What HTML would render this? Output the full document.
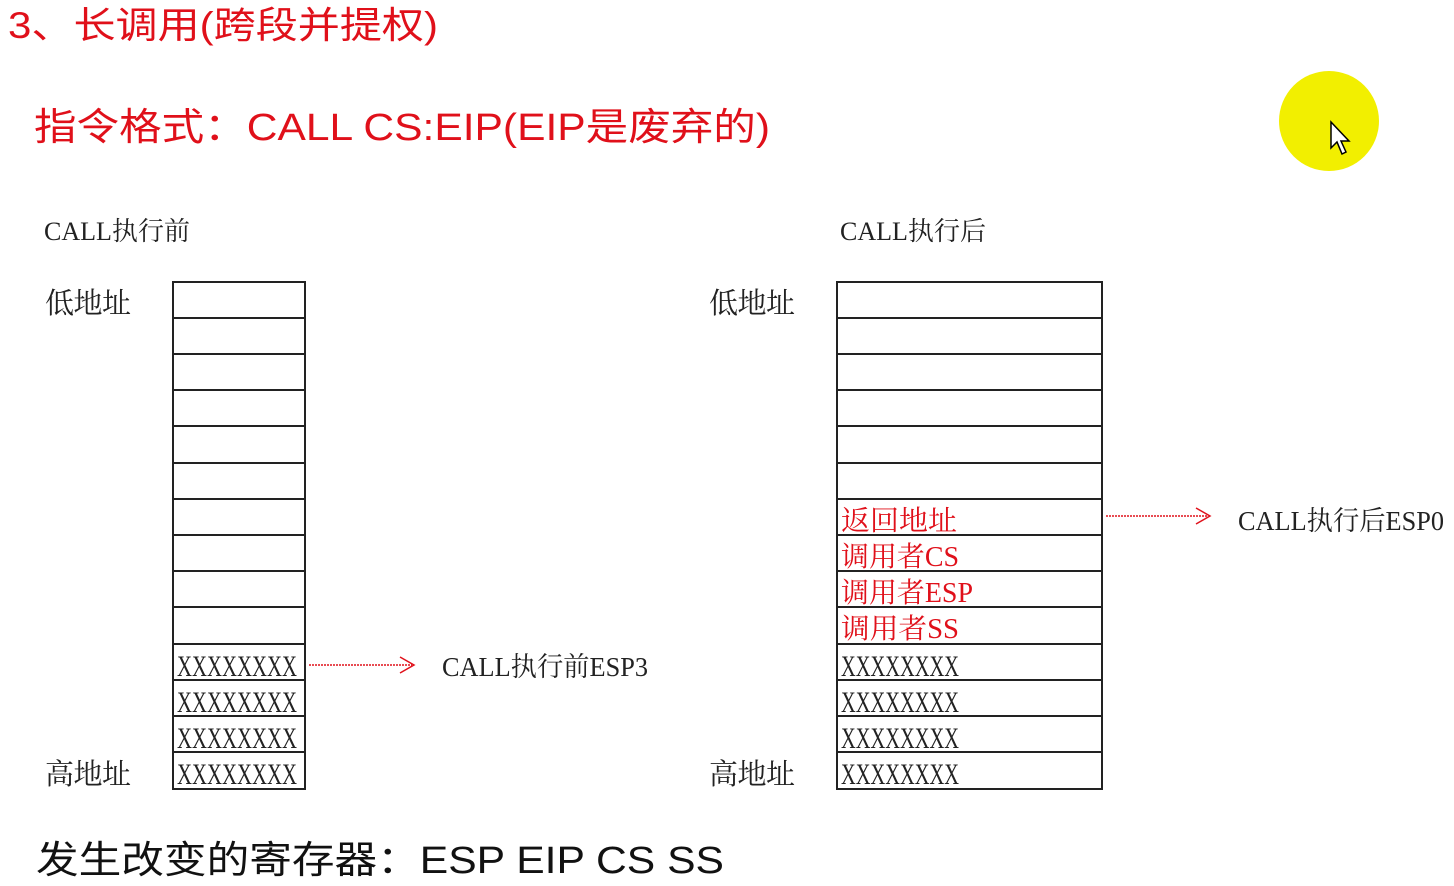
<!DOCTYPE html>
<html><head><meta charset="utf-8"><style>
html,body{margin:0;padding:0;background:#fff;}
svg{display:block}
.cjk{font-family:"Liberation Sans","Noto Sans CJK SC",sans-serif;}
.ser{font-family:"Liberation Serif","Noto Serif CJK SC","Noto Sans CJK SC",serif;}
</style></head><body>
<svg width="1454" height="886" viewBox="0 0 1454 886" xmlns="http://www.w3.org/2000/svg" xml:space="preserve">
<rect width="1454" height="886" fill="#fff"/>
<text x="8" y="38" class="cjk" font-size="37" fill="#e0101a" textLength="430" lengthAdjust="spacingAndGlyphs">3、长调用(跨段并提权)</text>
<text x="34" y="140" class="cjk" font-size="38" fill="#e0101a" textLength="736" lengthAdjust="spacingAndGlyphs">指令格式：CALL  CS:EIP(EIP是废弃的)</text>
<circle cx="1329" cy="121" r="50" fill="#f2ef00"/>
<path d="M1331 122 L1331 148 L1337 142 L1342 154 L1346 152 L1341 141 L1349 141 Z" fill="#fff" stroke="#000" stroke-width="1.5"/>
<text x="44" y="240" class="ser" font-size="26" fill="#222" textLength="146" lengthAdjust="spacingAndGlyphs">CALL执行前</text>
<text x="840" y="240" class="ser" font-size="26" fill="#222" textLength="146" lengthAdjust="spacingAndGlyphs">CALL执行后</text>
<text x="45" y="313" class="ser" font-size="29" fill="#222" textLength="86">低地址</text>
<text x="45" y="784" class="ser" font-size="29" fill="#222" textLength="86">高地址</text>
<text x="709" y="313" class="ser" font-size="29" fill="#222" textLength="86">低地址</text>
<text x="709" y="784" class="ser" font-size="29" fill="#222" textLength="86">高地址</text>
<g stroke="#222" stroke-width="2" fill="none">
<rect x="173" y="282" width="132" height="507"/>
<rect x="837" y="282" width="265" height="507"/>
<path d="M173 318H305M173 354H305M173 390H305M173 426H305M173 463H305M173 499H305M173 535H305M173 571H305M173 607H305M173 644H305M173 680H305M173 716H305M173 752H305"/>
<path d="M837 318H1102M837 354H1102M837 390H1102M837 426H1102M837 463H1102M837 499H1102M837 535H1102M837 571H1102M837 607H1102M837 644H1102M837 680H1102M837 716H1102M837 752H1102"/>
</g>
<g class="ser" font-size="30" fill="#222">
<text x="177" y="676" textLength="120" lengthAdjust="spacingAndGlyphs">XXXXXXXX</text>
<text x="177" y="712" textLength="120" lengthAdjust="spacingAndGlyphs">XXXXXXXX</text>
<text x="177" y="748" textLength="120" lengthAdjust="spacingAndGlyphs">XXXXXXXX</text>
<text x="177" y="784" textLength="120" lengthAdjust="spacingAndGlyphs">XXXXXXXX</text>
<text x="841" y="676" textLength="118" lengthAdjust="spacingAndGlyphs">XXXXXXXX</text>
<text x="841" y="712" textLength="118" lengthAdjust="spacingAndGlyphs">XXXXXXXX</text>
<text x="841" y="748" textLength="118" lengthAdjust="spacingAndGlyphs">XXXXXXXX</text>
<text x="841" y="784" textLength="118" lengthAdjust="spacingAndGlyphs">XXXXXXXX</text>
</g>
<g class="ser" font-size="28" fill="#e0101a">
<text x="841" y="530" textLength="116" lengthAdjust="spacingAndGlyphs">返回地址</text>
<text x="841" y="566" textLength="118" lengthAdjust="spacingAndGlyphs">调用者CS</text>
<text x="841" y="602" textLength="132" lengthAdjust="spacingAndGlyphs">调用者ESP</text>
<text x="841" y="638" textLength="118" lengthAdjust="spacingAndGlyphs">调用者SS</text>
</g>
<g stroke="#e0101a" stroke-width="1.5" fill="none">
<path d="M309 665H412" stroke-dasharray="2 1"/>
<path d="M400 657L414 665L400 673"/>
<path d="M1106 516H1208" stroke-dasharray="2 1"/>
<path d="M1196 508L1210 516L1196 524"/>
</g>
<text x="442" y="676" class="ser" font-size="27" fill="#222" textLength="206" lengthAdjust="spacingAndGlyphs">CALL执行前ESP3</text>
<text x="1238" y="530" class="ser" font-size="27" fill="#222" textLength="206" lengthAdjust="spacingAndGlyphs">CALL执行后ESP0</text>
<text x="36" y="873" class="cjk" font-size="38" fill="#111" textLength="688" lengthAdjust="spacingAndGlyphs">发生改变的寄存器：ESP EIP  CS SS</text>
</svg>
</body></html>
